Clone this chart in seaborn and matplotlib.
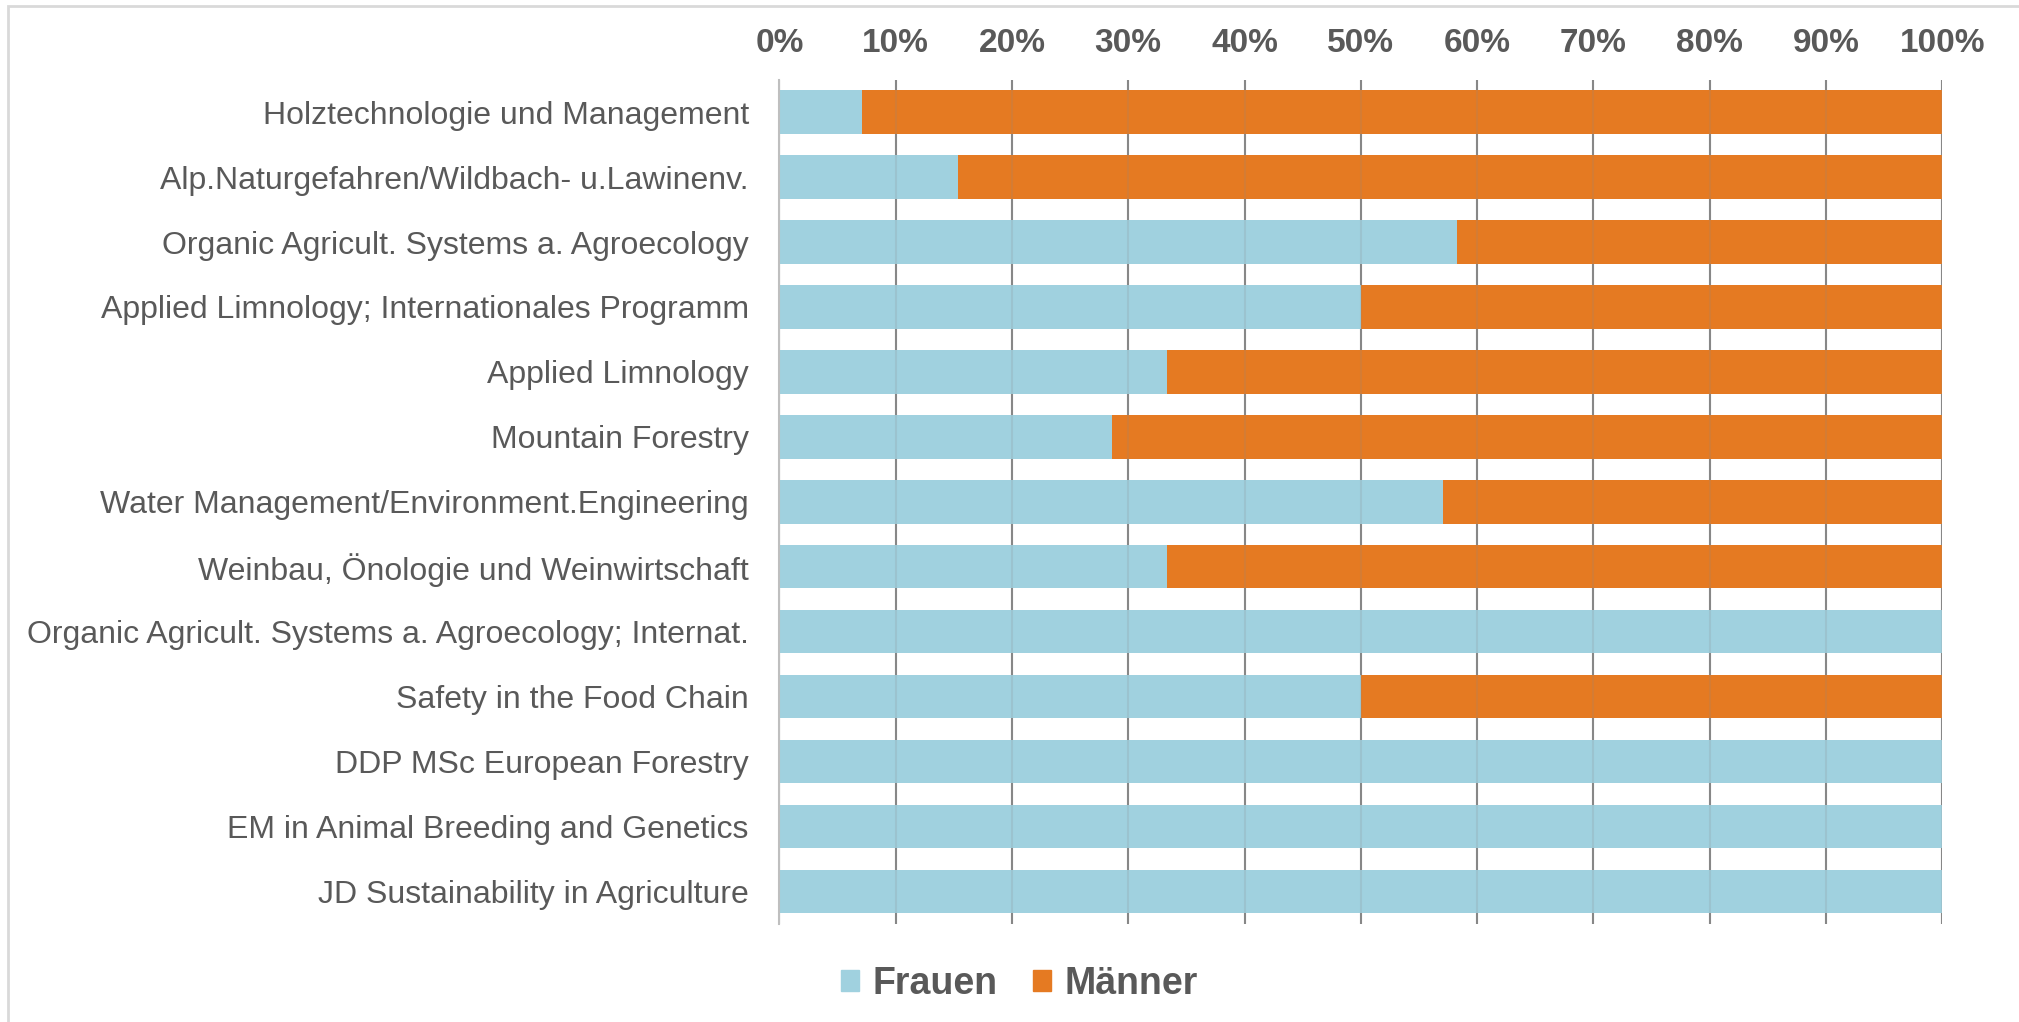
import matplotlib
matplotlib.use("Agg")
import matplotlib.pyplot as plt
import matplotlib.patches as mpatches
import seaborn as sns
import pandas as pd
import numpy as np

categories = [
    "Holztechnologie und Management",
    "Alp.Naturgefahren/Wildbach- u.Lawinenv.",
    "Organic Agricult. Systems a. Agroecology",
    "Applied Limnology; Internationales Programm",
    "Applied Limnology",
    "Mountain Forestry",
    "Water Management/Environment.Engineering",
    "Weinbau, Önologie und Weinwirtschaft",
    "Organic Agricult. Systems a. Agroecology; Internat.",
    "Safety in the Food Chain",
    "DDP MSc European Forestry",
    "EM in Animal Breeding and Genetics",
    "JD Sustainability in Agriculture",
]
frauen = [7.1, 15.4, 58.3, 50.0, 33.3, 28.6, 57.1, 33.3, 100.0, 50.0, 100.0, 100.0, 100.0]
maenner = [92.9, 84.6, 41.7, 50.0, 66.7, 71.4, 42.9, 66.7, 0.0, 50.0, 0.0, 0.0, 0.0]
tick_values = [0, 10, 20, 30, 40, 50, 60, 70, 80, 90, 100]
series_names = ["Frauen", "Männer"]

BLUE = "#a0d1df"
ORANGE = "#e57a22"
TEXT = "#595959"
GRID = "#878787"

df = pd.DataFrame({"cat": categories, "frauen": frauen, "maenner": maenner})
df["total"] = df["frauen"] + df["maenner"]

sns.set_style("white")
plt.rcParams["font.family"] = ["Liberation Sans", "DejaVu Sans"]

fig = plt.figure(figsize=(20.19, 10.22), dpi=100)
ax = fig.add_axes([0.386, 0.096, 0.576, 0.826])

# stacked: full bar in orange, women share drawn over it in blue
sns.barplot(data=df, x="total", y="cat", color=ORANGE, orient="h", width=0.67,
            saturation=1, ax=ax, zorder=2, linewidth=0)
sns.barplot(data=df, x="frauen", y="cat", color=BLUE, orient="h", width=0.67,
            saturation=1, ax=ax, zorder=2, linewidth=0)

ax.set_xlim(0, 100)
ax.set_ylim(len(categories) - 0.5, -0.5)
ax.xaxis.tick_top()
ax.set_xticks(tick_values)
ax.set_xticklabels([f"{v}%" for v in tick_values], fontsize=24, fontweight="bold",
                   color=TEXT)
ax.tick_params(axis="x", length=0, pad=15)
ax.tick_params(axis="y", length=0, pad=22)
for lbl in ax.get_yticklabels():
    lbl.set_fontsize(23)
    lbl.set_color(TEXT)
ax.set_xlabel("")
ax.set_ylabel("")

# gridlines: solid below the bars, faint copy on top so they show through
ax.grid(axis="x", color=GRID, linewidth=1.5)
ax.grid(axis="y", visible=False)
ax.set_axisbelow(True)
for v in tick_values[1:]:
    ax.axvline(v, color=GRID, linewidth=1.5, alpha=0.18, zorder=3)
for s in ["top", "right", "bottom"]:
    ax.spines[s].set_visible(False)
ax.spines["left"].set_color("#bfbfbf")
ax.spines["left"].set_linewidth(1.5)

handles = [mpatches.Patch(color=BLUE, label=series_names[0]),
           mpatches.Patch(color=ORANGE, label=series_names[1])]
fig.legend(handles=handles, loc="center", bbox_to_anchor=(0.505, 0.037), ncol=2,
           frameon=False, prop={"size": 27, "weight": "bold"}, labelcolor=TEXT,
           handlelength=0.48, handleheight=0.48, handletextpad=0.35, columnspacing=0.95)

border = mpatches.Rectangle((0.004, -0.01), 1.1, 1.004, transform=fig.transFigure,
                            fill=False, edgecolor="#d9d9d9", linewidth=2)
fig.patches.append(border)

fig.savefig("out.png", dpi=100)
